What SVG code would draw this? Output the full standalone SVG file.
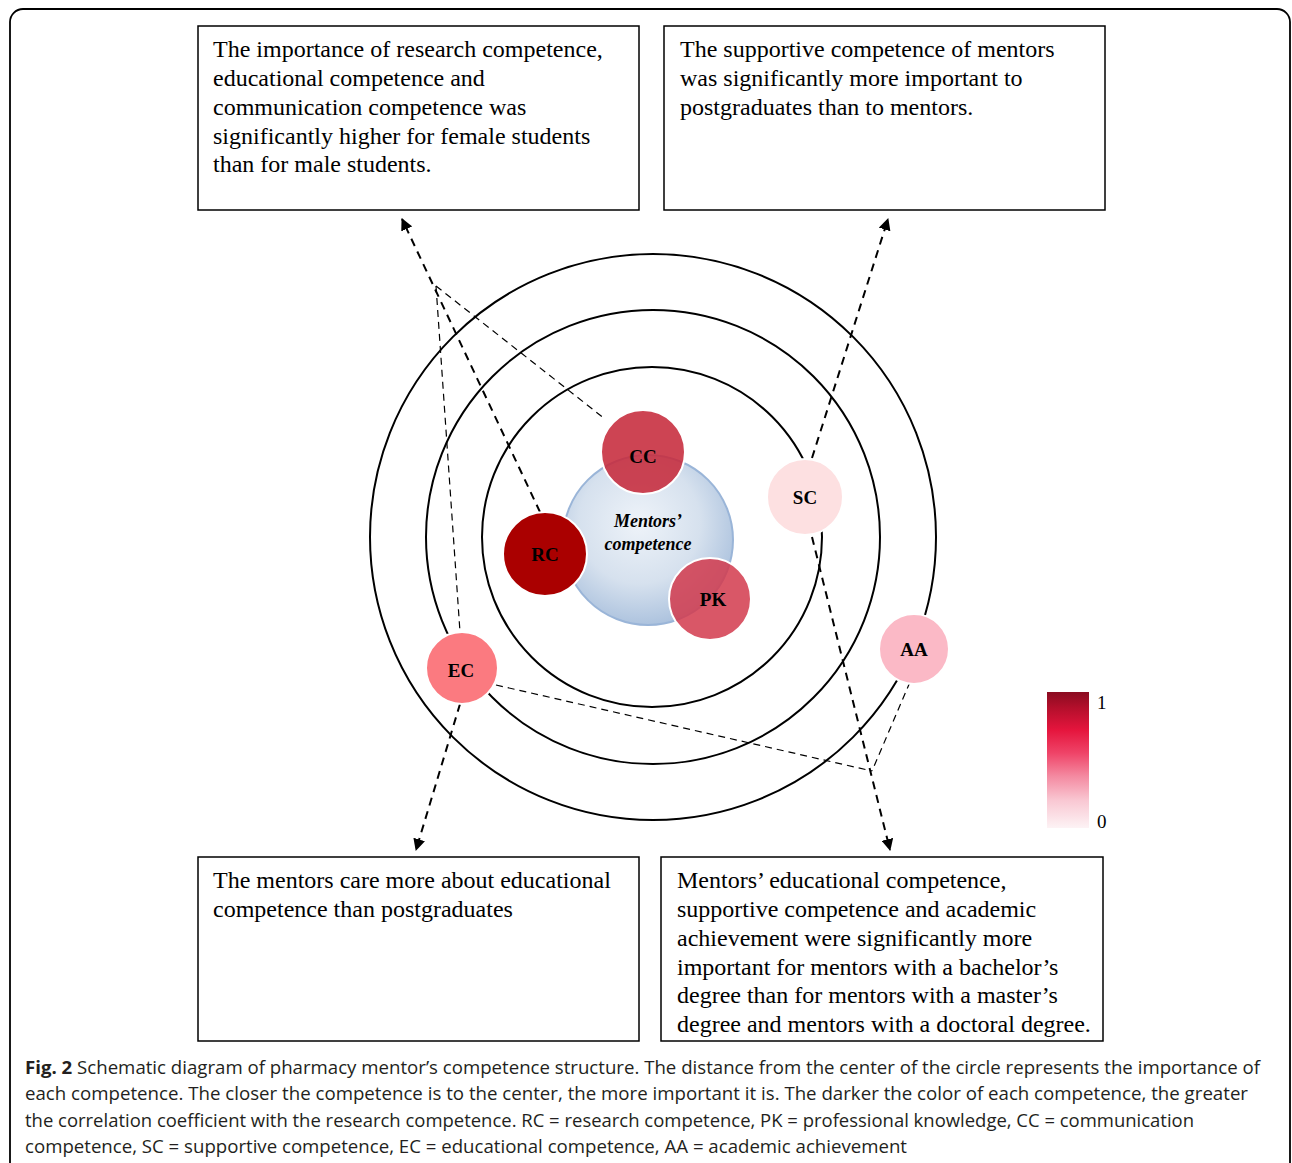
<svg xmlns="http://www.w3.org/2000/svg" width="1292" height="1163" viewBox="0 0 1292 1163">
<style>
.box{fill:#fff;stroke:#000;stroke-width:1.5}
.bt{font-family:"Liberation Serif","Times New Roman",serif;font-size:24px;fill:#000}
.ring{fill:none;stroke:#000;stroke-width:2}
.node{stroke:#fff;stroke-width:2}
.lbl{font-family:"Liberation Serif","Times New Roman",serif;font-size:19px;font-weight:bold;fill:#000;text-anchor:middle}
.thick{fill:none;stroke:#000;stroke-width:2;stroke-dasharray:8 6}
.thin{fill:none;stroke:#000;stroke-width:1.2;stroke-dasharray:7 5}
.cap{font-family:"Open Sans","Noto Sans","Liberation Sans",sans-serif;font-size:18.5px;fill:#231f20}
</style>
<defs>
<marker id="arr" viewBox="0 0 12 12" refX="11" refY="6" markerWidth="12" markerHeight="12" markerUnits="userSpaceOnUse" orient="auto">
<path d="M0,0 L12,6 L0,12 z" fill="#000"/>
</marker>
<radialGradient id="blue" cx="0.45" cy="0.4" r="0.65">
<stop offset="0" stop-color="#eef3f9"/>
<stop offset="0.55" stop-color="#d6e1ee"/>
<stop offset="1" stop-color="#a5bddb"/>
</radialGradient>
<linearGradient id="bar" x1="0" y1="0" x2="0" y2="1">
<stop offset="0" stop-color="#8a0b20"/>
<stop offset="0.12" stop-color="#b50f2c"/>
<stop offset="0.28" stop-color="#e5153d"/>
<stop offset="0.45" stop-color="#ef4468"/>
<stop offset="0.62" stop-color="#f48aa1"/>
<stop offset="0.8" stop-color="#f9c8d3"/>
<stop offset="1" stop-color="#fdf3f5"/>
</linearGradient>
</defs>
<rect width="1292" height="1163" fill="#fff"/>
<rect x="10" y="9" width="1280" height="1180" rx="13" fill="none" stroke="#000" stroke-width="1.8"/>

<g id="box-top-left">
<rect class="box" x="198" y="26" width="441" height="184"/>
<text class="bt"><tspan x="213" y="57">The importance of research competence,</tspan><tspan x="213" y="86">educational competence and</tspan><tspan x="213" y="115">communication competence was</tspan><tspan x="213" y="144">significantly higher for female students</tspan><tspan x="213" y="172">than for male students.</tspan></text>
</g>
<g id="box-top-right">
<rect class="box" x="664" y="26" width="441" height="184"/>
<text class="bt"><tspan x="680" y="57">The supportive competence of mentors</tspan><tspan x="680" y="86">was significantly more important to</tspan><tspan x="680" y="115">postgraduates than to mentors.</tspan></text>
</g>
<g id="box-bottom-left">
<rect class="box" x="198" y="857" width="441" height="184"/>
<text class="bt"><tspan x="213" y="888">The mentors care more about educational</tspan><tspan x="213" y="917">competence than postgraduates</tspan></text>
</g>
<g id="box-bottom-right">
<rect class="box" x="661" y="857" width="442" height="184"/>
<text class="bt"><tspan x="677" y="888">Mentors’ educational competence,</tspan><tspan x="677" y="917">supportive competence and academic</tspan><tspan x="677" y="946">achievement were significantly more</tspan><tspan x="677" y="975">important for mentors with a bachelor’s</tspan><tspan x="677" y="1003">degree than for mentors with a master’s</tspan><tspan x="677" y="1032">degree and mentors with a doctoral degree.</tspan></text>
</g>

<g id="rings">
<circle class="ring" cx="653" cy="537" r="283"/>
<circle class="ring" cx="653" cy="537" r="227"/>
<circle class="ring" cx="652" cy="537" r="170"/>
</g>

<g id="connectors">
<path class="thick" d="M540,512 L402,219" marker-end="url(#arr)"/>
<path class="thin" d="M436,286 L605,419"/>
<path class="thin" d="M436,286 L460,632"/>
<path class="thick" d="M812,458 L888,219" marker-end="url(#arr)"/>
<path class="thick" d="M812,537 L890,850" marker-end="url(#arr)"/>
<path class="thin" d="M496,685 L872,771"/>
<path class="thin" d="M910,682 L872,771"/>
<path class="thick" d="M460,704 L416,850" marker-end="url(#arr)"/>
</g>

<g id="center">
<circle cx="648" cy="540" r="85" fill="url(#blue)" stroke="#9ab5d8" stroke-width="2"/>
<text font-family="Liberation Serif,Times New Roman,serif" font-size="18" font-weight="bold" font-style="italic" text-anchor="middle"><tspan x="648" y="527">Mentors’</tspan><tspan x="648" y="550">competence</tspan></text>
</g>
<g id="node-CC">
<circle class="node" cx="643" cy="452" r="42" fill="#c62a3b" fill-opacity="0.88"/>
<text class="lbl" x="643" y="463">CC</text>
</g>
<g id="node-RC">
<circle class="node" cx="545" cy="554" r="42" fill="#aa0000"/>
<text class="lbl" x="545" y="561">RC</text>
</g>
<g id="node-PK">
<circle class="node" cx="710" cy="599" r="41" fill="#d23a4c" fill-opacity="0.85"/>
<text class="lbl" x="713" y="606">PK</text>
</g>
<g id="node-SC">
<circle class="node" cx="805" cy="497" r="38" fill="#fde0e1"/>
<text class="lbl" x="805" y="504">SC</text>
</g>
<g id="node-AA">
<circle class="node" cx="914" cy="649" r="35" fill="#fbb9c6"/>
<text class="lbl" x="914" y="656">AA</text>
</g>
<g id="node-EC">
<circle class="node" cx="462" cy="668" r="36" fill="#fb7a80"/>
<text class="lbl" x="461" y="677">EC</text>
</g>

<g id="colorbar">
<rect x="1047" y="692" width="42" height="136" fill="url(#bar)"/>
<text font-family="Liberation Serif,Times New Roman,serif" font-size="19" x="1097" y="709">1</text>
<text font-family="Liberation Serif,Times New Roman,serif" font-size="19" x="1097" y="828">0</text>
</g>

<g id="caption">
<text class="cap" x="25" y="1074" textLength="1235" lengthAdjust="spacingAndGlyphs"><tspan font-weight="bold">Fig. 2</tspan> Schematic diagram of pharmacy mentor’s competence structure. The distance from the center of the circle represents the importance of</text>
<text class="cap" x="25" y="1100" textLength="1223" lengthAdjust="spacingAndGlyphs">each competence. The closer the competence is to the center, the more important it is. The darker the color of each competence, the greater</text>
<text class="cap" x="25" y="1127" textLength="1169" lengthAdjust="spacingAndGlyphs">the correlation coefficient with the research competence. RC = research competence, PK = professional knowledge, CC = communication</text>
<text class="cap" x="25" y="1153" textLength="882" lengthAdjust="spacingAndGlyphs">competence, SC = supportive competence, EC = educational competence, AA = academic achievement</text>
</g>
</svg>
